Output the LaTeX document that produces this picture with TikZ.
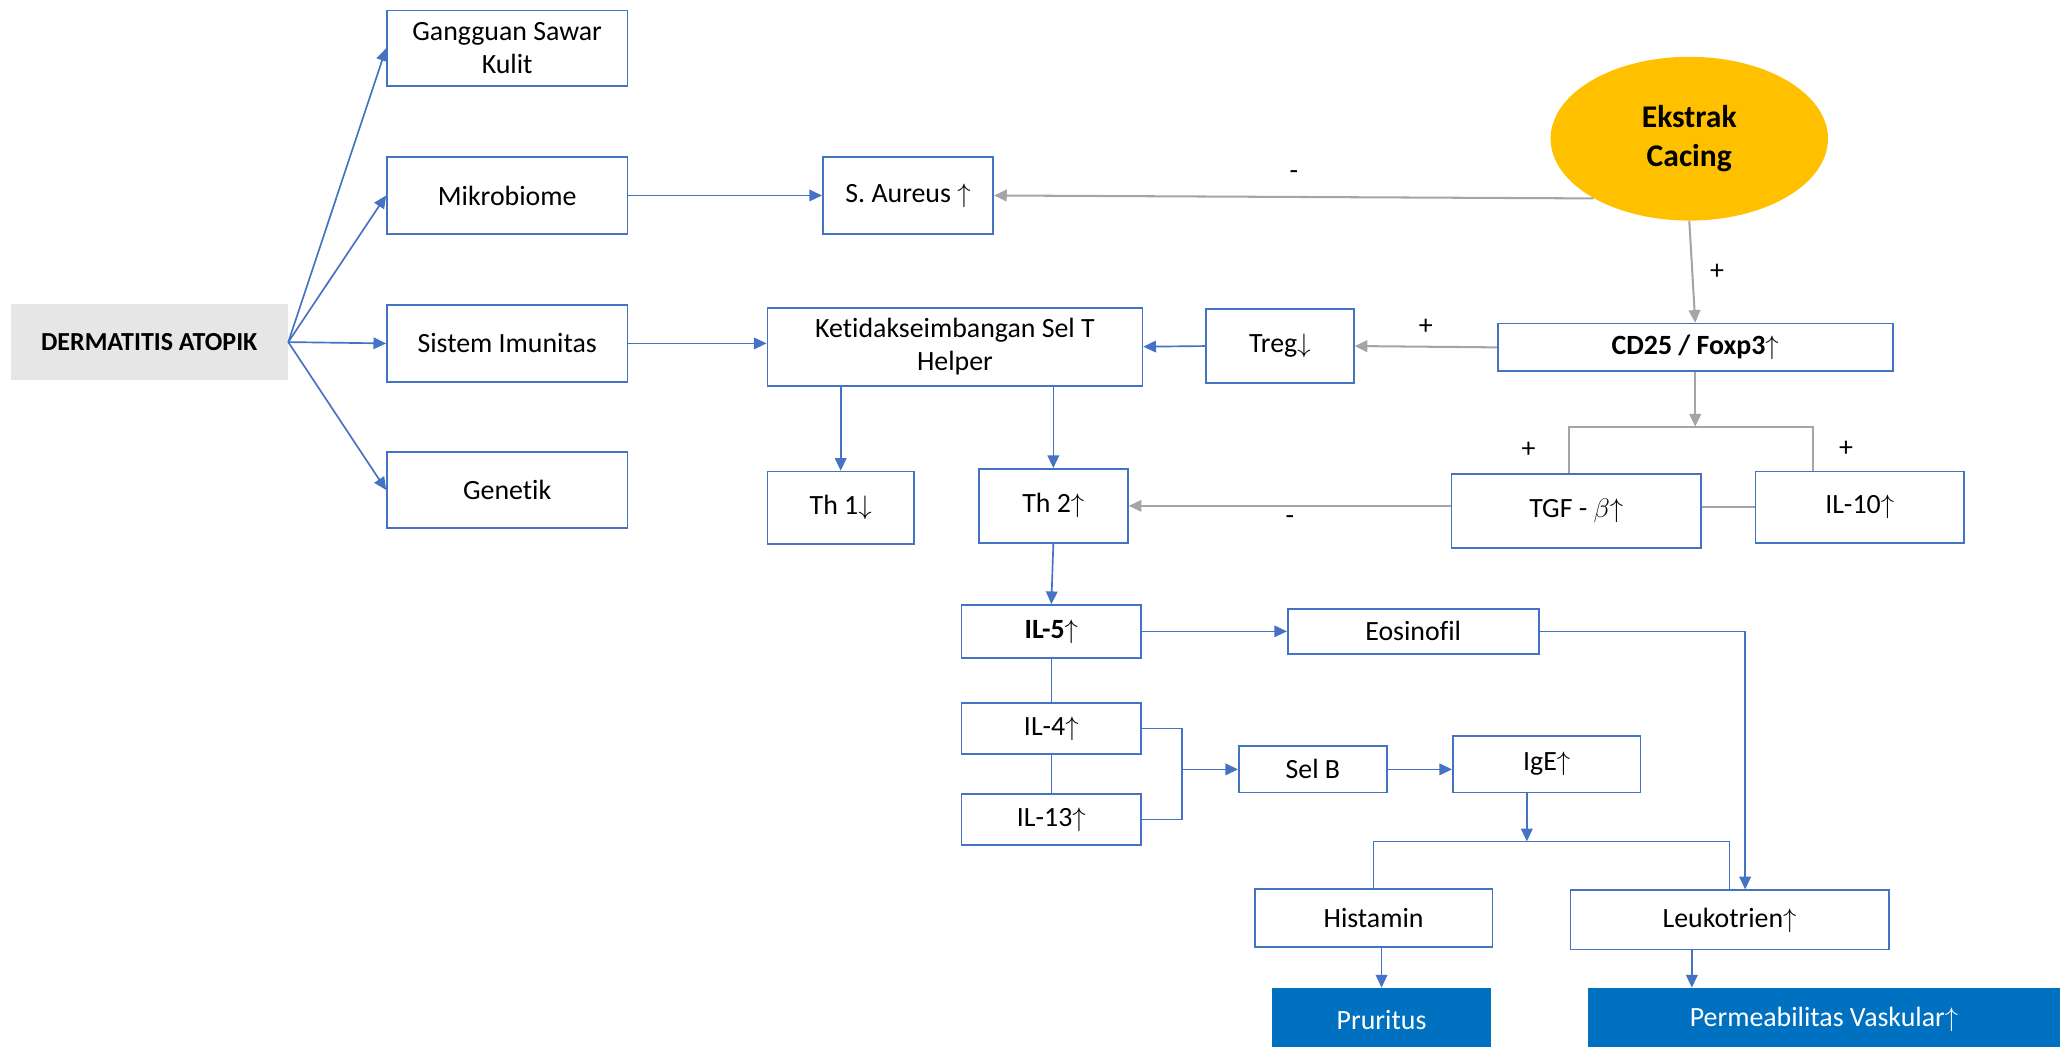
\documentclass[tikz,border=0pt]{standalone}
\usepackage{fontspec}
\setmainfont{Carlito}[RawFeature={-liga;-clig;-calt;-dlig}]
\usetikzlibrary{arrows.meta,shapes.geometric}
\definecolor{lineblue}{HTML}{4472C4}
\definecolor{linegray}{HTML}{A5A5A5}
\definecolor{boxgray}{HTML}{E7E6E6}
\definecolor{gold}{HTML}{FFC000}
\definecolor{deepblue}{HTML}{0070C0}

\begin{document}
\begin{tikzpicture}[x=0.25mm, y=-0.25mm, font=\fontsize{15}{18}\selectfont,
    main/.style = {draw=lineblue, line width=0.9pt, align=center, inner sep=1pt},
    solid/.style = {fill=deepblue, text=white, inner sep=1pt},
    tip/.style = {-{Triangle[length=2.4mm, width=2.2mm]}},
    bl/.style = {draw=lineblue, line width=0.9pt},
    gl/.style = {draw=linegray, line width=1.1pt}]
    \useasboundingbox (0,0) rectangle (1568,792);
    \clip (0,0) rectangle (1568,792);

    % left column
    \node[fill=boxgray, minimum width=52.5mm, minimum height=14.5mm, font=\fontsize{14}{17}\selectfont\bfseries] (derm) at (113,259) {DERMATITIS ATOPIK};
    \node[main, minimum width=45.5mm, minimum height=14.25mm] (kulit) at (384,36.5) {Gangguan Sawar\\Kulit};
    \node[main, minimum width=45.5mm, minimum height=14.5mm] (mikro) at (384,148) {Mikrobiome};
    \node[main, minimum width=45.5mm, minimum height=14.5mm] (imun) at (384,260) {Sistem Imunitas};
    \node[main, minimum width=45.5mm, minimum height=14.5mm] (gen) at (384,371) {Genetik};

    % upper part
    \node[main, minimum width=32.25mm, minimum height=14.5mm] (sa) at (687.5,148) {S. Aureus $\uparrow$};
    \node[ellipse, fill=gold, inner sep=0pt, minimum width=52.5mm, minimum height=31mm, align=center, font=\fontsize{17}{21}\selectfont\bfseries] (ek) at (1279,105) {Ekstrak\\Cacing};
    \node[main, minimum width=71mm, minimum height=14.75mm] (ksth) at (723,262.5) {Ketidakseimbangan Sel T\\Helper};
    \node[main, minimum width=28mm, minimum height=14mm] (treg) at (969,262) {Treg$\downarrow$};
    \node[main, minimum width=74.75mm, minimum height=9mm, font=\fontsize{15}{18}\selectfont\bfseries] (cd) at (1283.5,263) {CD25 / Foxp3$\uparrow$};
    \node[main, minimum width=47.25mm, minimum height=14mm] (tgf) at (1193.5,387) {TGF - $\beta\mathord{\uparrow}$};
    \node[main, minimum width=39.5mm, minimum height=13.5mm] (il10) at (1408,384) {IL-10$\uparrow$};
    \node[main, minimum width=27.75mm, minimum height=13.75mm] (th1) at (636.5,384.5) {Th 1$\downarrow$};
    \node[main, minimum width=28.25mm, minimum height=14mm] (th2) at (797.5,383) {Th 2$\uparrow$};

    % lower part
    \node[main, minimum width=34mm, minimum height=10mm, font=\fontsize{15}{18}\selectfont\bfseries] (il5) at (796,478) {IL-5$\uparrow$};
    \node[main, minimum width=47.5mm, minimum height=8.5mm] (eos) at (1070,478) {Eosinofil};
    \node[main, minimum width=34mm, minimum height=9.75mm] (il4) at (796,551.5) {IL-4$\uparrow$};
    \node[main, minimum width=34mm, minimum height=9.75mm] (il13) at (796,620.5) {IL-13$\uparrow$};
    \node[main, minimum width=28mm, minimum height=8.75mm] (selb) at (994,582.5) {Sel B};
    \node[main, minimum width=35.5mm, minimum height=10.75mm] (ige) at (1171,578.5) {IgE$\uparrow$};
    \node[main, minimum width=45mm, minimum height=11mm] (his) at (1040,695) {Histamin};
    \node[main, minimum width=60.25mm, minimum height=11.25mm] (leu) at (1309.5,696.5) {Leukotrien$\uparrow$};
    \node[solid, minimum width=41.5mm, minimum height=12mm] (pru) at (1046,772) {Pruritus};
    \node[solid, minimum width=89.5mm, minimum height=12mm] (perm) at (1381,772) {Permeabilitas Vaskular$\uparrow$};

    \coordinate (split) at (1283.5,323);
    \coordinate (brl) at (1188,323);
    \coordinate (brr) at (1373,323);
    \coordinate (join) at (895,582.5);
    \coordinate (fork) at (1156,637);

    \foreach \n in {kulit,mikro,imun,gen}
        \draw[bl,tip] (derm.east) -- (\n.west);
    \draw[bl,tip] (mikro.east) -- (sa.west);
    \draw[bl,tip] (imun.east) -- (imun.east -| ksth.west);
    \draw[gl,tip] (ek.212) -- (sa.east) node[midway,above=2mm] {-};
    \draw[gl,tip] (ek.south) -- (cd.north) node[midway,right=2mm] {+};
    \draw[gl,tip] (cd.west) -- (treg.east) node[midway,above=1mm] {+};
    \draw[bl,tip] (treg.west) -- (ksth.east);
    \draw[gl,tip] (cd.south) -- (split);
    \draw[gl] (brl |- tgf.north) -- node[left=5mm] {+} (brl) -- (brr) -- node[right=3.5mm] {+} (brr |- il10.north);
    \draw[gl] (tgf.east |- il10.west) -- (il10.west);
    \draw[gl,tip] (tgf.west |- th2.east) -- (th2.east) node[midway,below=0.5mm] {-};
    \draw[bl,tip] (ksth.south -| th1.north) -- (th1.north);
    \draw[bl,tip] (ksth.south -| th2.north) -- (th2.north);
    \draw[bl,tip] (th2.south) -- (il5.north);
    \draw[bl,tip] (il5.east) -- (eos.west);
    \draw[bl,tip] (eos.east) -| (leu.63);
    \draw[bl] (il5.south) -- (il4.north) (il4.south) -- (il13.north);
    \draw[bl] (il4.east) -| (join) |- (il13.east);
    \draw[bl,tip] (join) -- (selb.west);
    \draw[bl,tip] (selb.east) -- (selb.east -| ige.west);
    \draw[bl,tip] (ige.south -| fork) -- (fork);
    \draw[bl] (his.north) |- (fork) -| (leu.north);
    \draw[bl,tip] (his.south -| pru.north) -- (pru.north);
    \draw[bl,tip] (leu.219) -- (leu.219 |- perm.north);
\end{tikzpicture}
\end{document}
